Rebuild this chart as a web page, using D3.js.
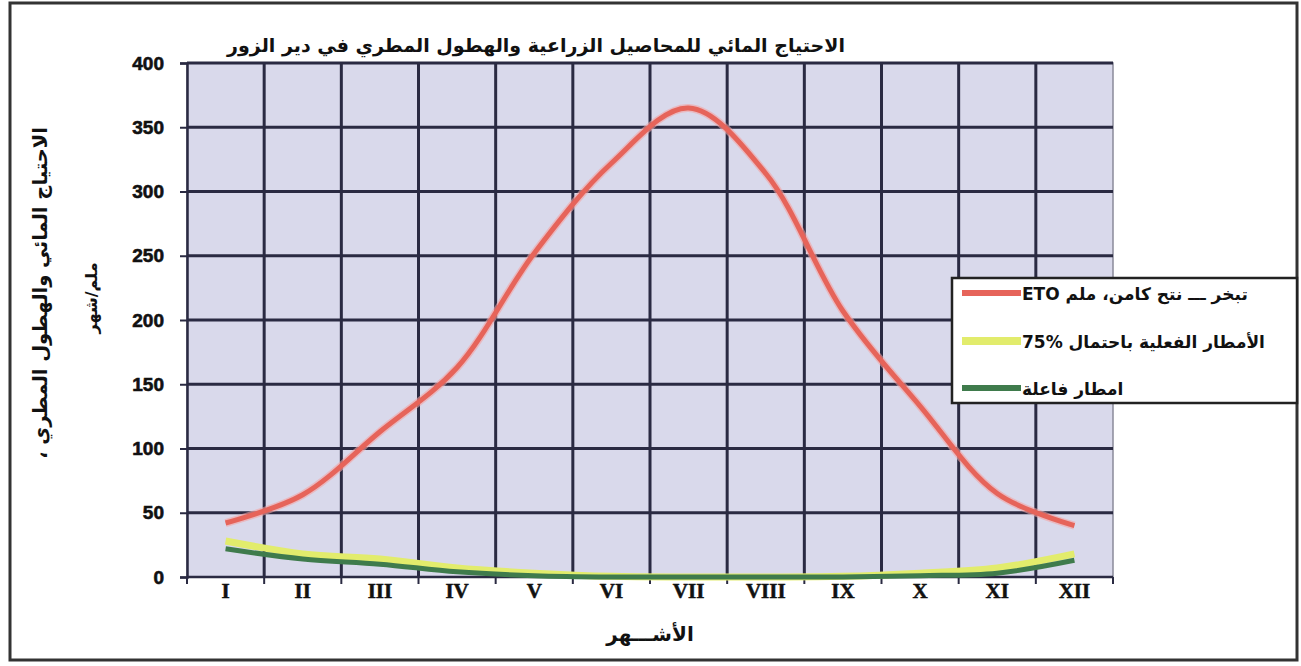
<!DOCTYPE html>
<html>
<head>
<meta charset="utf-8">
<script src="https://cdn.jsdelivr.net/npm/d3@7"></script>
<style>
  html, body { margin: 0; padding: 0; background: #ffffff; }
  svg { display: block; }
</style>
</head>
<body>
<svg id="chart" width="1301" height="666"></svg>
<script>
// Monthly water requirement (ETo) and rainfall, Deir ez-Zor, mm/month
const months = ["I", "II", "III", "IV", "V", "VI", "VII", "VIII", "IX", "X", "XI", "XII"];
const eto = [42, 64, 113, 163, 252, 322, 365, 314, 207, 133, 65, 40];
const rain75 = [28, 18, 14, 7, 3, 0.5, 0, 0, 0.5, 3, 7, 18];
const rainEff = [22, 14, 10, 4, 1, 0, 0, 0, 0, 1, 3, 13];
const yTicks = [0, 50, 100, 150, 200, 250, 300, 350, 400];

const titleText = "الاحتياج المائي للمحاصيل الزراعية والهطول المطري في دير الزور";
const yTitle1 = "الاحتياج المائي والهطول المطري ،";
const yTitle2 = "ملم/شهر";
const xTitle = "الأشـــهر";
const seriesNames = ["تبخر ـــ نتح كامن، ملم ETO", "الأمطار الفعلية باحتمال %75", "امطار فاعلة"];
const seriesColors = ["#e6645a", "#e2ec6c", "#3f7b4c"];
const seriesWidths = [5, 7, 5];

const svg = d3.select("#chart");
const W = 1301, H = 666;
const plot = { left: 187, right: 1113, top: 63, bottom: 577 };

// outer frame
svg.append("rect").attr("x", 0).attr("y", 0).attr("width", W).attr("height", H).attr("fill", "#ffffff");
svg.append("rect").attr("x", 10).attr("y", 3).attr("width", 1287).attr("height", 657)
  .attr("fill", "none").attr("stroke", "#333333").attr("stroke-width", 3);

const x = d3.scaleBand().domain(months).range([plot.left, plot.right]).padding(0);
const y = d3.scaleLinear().domain([0, 400]).range([plot.bottom, plot.top]);

// plot background
svg.append("rect")
  .attr("x", plot.left).attr("y", plot.top)
  .attr("width", plot.right - plot.left).attr("height", plot.bottom - plot.top)
  .attr("fill", "#d9d9eb").attr("stroke", "#8a8a9a").attr("stroke-width", 1.5);

// horizontal gridlines
svg.append("g").selectAll("line").data(yTicks.filter(d => d > 0)).join("line")
  .attr("x1", plot.left).attr("x2", plot.right)
  .attr("y1", d => y(d)).attr("y2", d => y(d))
  .attr("stroke", "#2a2a42").attr("stroke-width", 3);

// vertical gridlines at month boundaries
const bounds = months.slice(1).map(m => x(m));
svg.append("g").selectAll("line").data(bounds).join("line")
  .attr("x1", d => d).attr("x2", d => d)
  .attr("y1", plot.top).attr("y2", plot.bottom)
  .attr("stroke", "#2a2a42").attr("stroke-width", 3);

// y axis
const yAxis = d3.axisLeft(y).tickValues(yTicks).tickSize(7).tickPadding(16);
const gy = svg.append("g").attr("transform", `translate(${plot.left},0)`).call(yAxis);
gy.select(".domain").attr("stroke", "#2a2a42").attr("stroke-width", 2.5);
gy.selectAll(".tick line").attr("stroke", "#2a2a42").attr("stroke-width", 2);
gy.selectAll(".tick text")
  .attr("font-family", "Liberation Sans, Arial, sans-serif")
  .attr("font-weight", "bold").attr("font-size", 19).attr("fill", "#111")
  .attr("stroke", "#111").attr("stroke-width", 0.6);

// x axis: ticks at month boundaries, labels centered in months
const gx = svg.append("g").attr("transform", `translate(0,${plot.bottom})`);
gx.append("line").attr("x1", plot.left).attr("x2", plot.right).attr("y1", 0).attr("y2", 0)
  .attr("stroke", "#2a2a42").attr("stroke-width", 2.5);
gx.selectAll("line.tk").data([plot.left, ...bounds, plot.right]).join("line").attr("class", "tk")
  .attr("x1", d => d).attr("x2", d => d).attr("y1", 0).attr("y2", 7)
  .attr("stroke", "#2a2a42").attr("stroke-width", 2);
gx.selectAll("text").data(months).join("text")
  .attr("x", d => x(d) + x.bandwidth() / 2).attr("y", 21)
  .attr("text-anchor", "middle")
  .attr("font-family", "Liberation Serif, Times New Roman, serif")
  .attr("font-weight", "bold").attr("font-size", 21).attr("fill", "#111")
  .attr("stroke", "#111").attr("stroke-width", 0.5)
  .text(d => d);

// series lines
const seriesData = [eto, rain75, rainEff];
const line = d3.line()
  .x((d, i) => x(months[i]) + x.bandwidth() / 2)
  .y(d => y(d))
  .curve(d3.curveCatmullRom.alpha(0.5));

// soft halo under the ETo line
svg.append("path").datum(eto).attr("d", line)
  .attr("fill", "none").attr("stroke", "#f4a4a4").attr("stroke-width", 8)
  .attr("stroke-opacity", 0.6).attr("stroke-linejoin", "round");

seriesData.forEach((s, k) => {
  svg.append("path").datum(s).attr("d", line)
    .attr("fill", "none").attr("stroke", seriesColors[k])
    .attr("stroke-width", seriesWidths[k])
    .attr("stroke-linejoin", "round").attr("stroke-linecap", "butt");
});

// title
svg.append("text").attr("x", 536).attr("y", 52)
  .attr("text-anchor", "middle").attr("direction", "rtl")
  .attr("font-family", "DejaVu Sans, sans-serif").attr("font-weight", "bold")
  .attr("font-size", 19).attr("fill", "#111").text(titleText);

// y axis title (two lines, rotated)
svg.append("text").attr("transform", "translate(47,293) rotate(-90)")
  .attr("text-anchor", "middle").attr("direction", "rtl")
  .attr("font-family", "DejaVu Sans, sans-serif").attr("font-weight", "bold")
  .attr("font-size", 19.5).attr("fill", "#111").text(yTitle1);
svg.append("text").attr("transform", "translate(97,298) rotate(-90)")
  .attr("text-anchor", "middle").attr("direction", "rtl")
  .attr("font-family", "DejaVu Sans, sans-serif").attr("font-weight", "bold")
  .attr("font-size", 16).attr("fill", "#111").text(yTitle2);

// x axis title
svg.append("text").attr("x", 650).attr("y", 641)
  .attr("text-anchor", "middle").attr("direction", "rtl")
  .attr("font-family", "DejaVu Sans, sans-serif").attr("font-weight", "bold")
  .attr("font-size", 20).attr("fill", "#111").text(xTitle);

// legend
const lg = svg.append("g");
lg.append("rect").attr("x", 952).attr("y", 278).attr("width", 345).attr("height", 125)
  .attr("fill", "#ffffff").attr("stroke", "#222").attr("stroke-width", 2.5);
const rowY = [293, 341, 388];
seriesNames.forEach((name, k) => {
  lg.append("line").attr("x1", 962).attr("x2", 1021).attr("y1", rowY[k]).attr("y2", rowY[k])
    .attr("stroke", seriesColors[k]).attr("stroke-width", seriesWidths[k] + 1);
  lg.append("text").attr("x", 1022).attr("y", rowY[k] + 7)
    .attr("direction", "rtl").attr("text-anchor", "end")
    .attr("font-family", "DejaVu Sans, sans-serif").attr("font-weight", "bold")
    .attr("font-size", 17).attr("fill", "#111").text(name);
});
</script>
</body>
</html>
